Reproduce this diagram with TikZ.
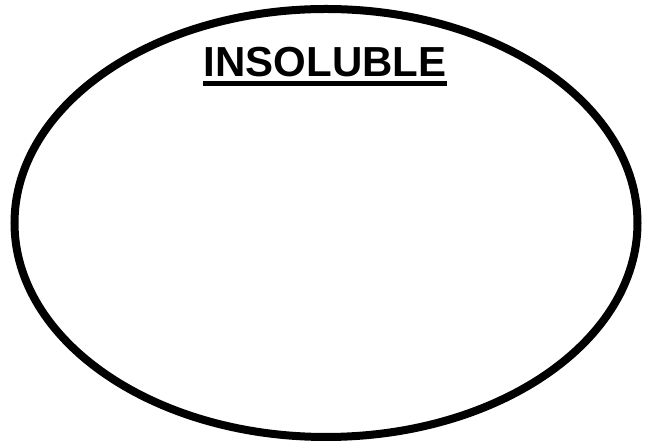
\documentclass[tikz,border=0pt]{standalone}
\usepackage{fontspec}
\setmainfont{Liberation Sans}
\usepackage{tikz}
\usetikzlibrary{calc,shapes.geometric}

\begin{document}
\begin{tikzpicture}[x=1pt,y=1pt,
  oval/.style={draw,line width=8pt,ellipse,inner sep=0pt,minimum width=623pt,minimum height=428pt},
  heading/.style={inner sep=0pt,font=\fontsize{42}{48}\selectfont\bfseries}]
\useasboundingbox (0,0) rectangle (646,441);
\node[oval] (set) at (326,218) {};
\node[heading,anchor=base] (title) at (325,364.3) {INSOLUBLE};
\draw[line width=5pt] ($(title.base west)+(0,-7.3)$) -- ($(title.base east)+(0,-7.3)$);
\end{tikzpicture}
\end{document}
